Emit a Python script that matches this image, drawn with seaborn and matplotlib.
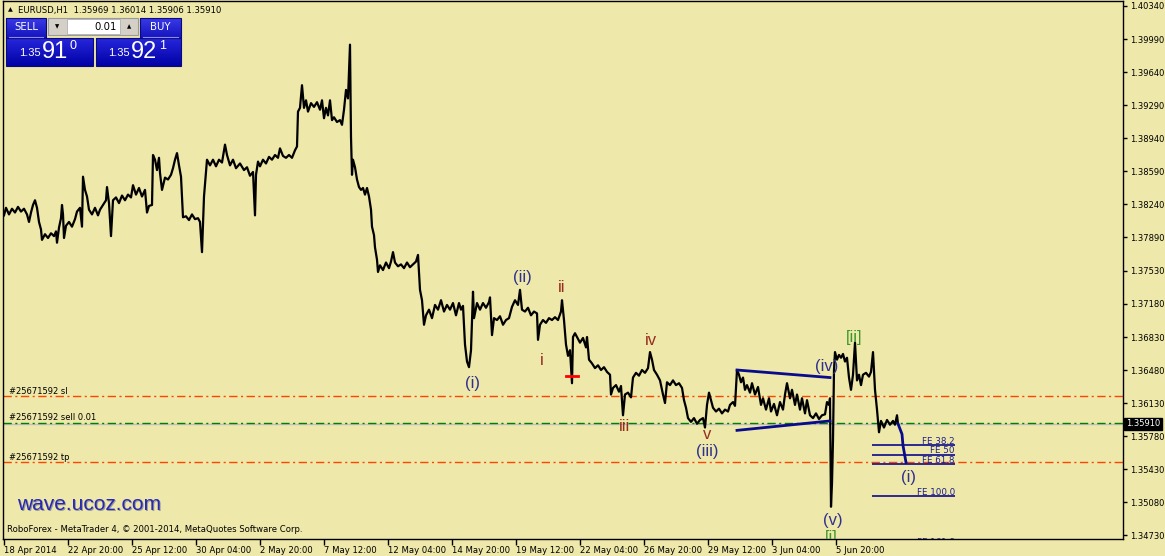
import numpy as np
import pandas as pd
import matplotlib
matplotlib.use("Agg")
import matplotlib.pyplot as plt
import matplotlib.colors as mcolors
from matplotlib.patches import Rectangle
from matplotlib.transforms import offset_copy, blended_transform_factory
import seaborn as sns

# ---------------- data ----------------
symbol_line = "EURUSD,H1  1.35969 1.36014 1.35906 1.35910"

# H1 price path: (bar index, price)
price_path = [
    (0,1.3812),(2,1.3820),(5,1.3813),(8,1.3819),(11,1.3815),(14,1.3821),(17,1.3816),(20,1.3819),
    (23,1.3813),(25,1.3805),(27,1.3815),(29,1.3823),(31,1.3828),(33,1.3820),(35,1.3805),(37,1.3797),
    (38,1.3786),(41,1.3792),(44,1.3788),(47,1.3793),(50,1.3790),(52,1.3795),(53,1.3783),(55,1.3799),
    (57,1.3809),(58,1.3823),(59,1.3813),(60,1.3788),(62,1.3801),(65,1.3805),(68,1.3800),(71,1.3808),
    (73,1.3816),(76,1.3820),(78,1.3800),(79,1.3853),(81,1.3839),(83,1.3832),(85,1.3818),(88,1.3813),
    (91,1.3820),(94,1.3812),(96,1.3818),(99,1.3823),(102,1.3828),(103,1.3842),(105,1.3825),(107,1.3790),
    (109,1.3828),(112,1.3831),(115,1.3825),(118,1.3833),(121,1.3828),(124,1.3834),(127,1.3831),
    (129,1.3844),(132,1.3834),(135,1.3841),(138,1.3832),(141,1.3839),(143,1.3815),(145,1.3822),
    (148,1.3823),(149,1.3876),(151,1.3871),(153,1.3860),(155,1.3873),(156,1.3857),(158,1.3839),
    (161,1.3852),(164,1.3850),(167,1.3855),(169,1.3862),(171,1.3871),(173,1.3878),(175,1.3865),
    (177,1.3853),(179,1.3810),(182,1.3811),(185,1.3807),(188,1.3813),(191,1.3808),(194,1.3809),
    (196,1.3805),(198,1.3773),(200,1.3832),(202,1.3858),(203,1.3871),(206,1.3865),(209,1.3871),
    (212,1.3864),(215,1.3871),(218,1.3868),(221,1.3887),(223,1.3876),(226,1.3865),(229,1.3871),
    (232,1.3862),(236,1.3867),(240,1.3860),(243,1.3863),(246,1.3854),(249,1.3858),(251,1.3812),
    (252,1.3855),(254,1.3869),(256,1.3864),(259,1.3871),(262,1.3867),(265,1.3874),(268,1.3871),
    (271,1.3876),(274,1.3873),(276,1.3883),(279,1.3875),(282,1.3873),(285,1.3876),(288,1.3873),
    (291,1.3881),(293,1.3885),(294,1.3922),(296,1.3926),(298,1.3950),(300,1.3926),(302,1.3934),
    (304,1.3922),(307,1.3931),(310,1.3927),(313,1.3932),(316,1.3924),(318,1.3934),(320,1.3915),
    (322,1.3926),(324,1.3918),(326,1.3934),(328,1.3913),(330,1.3916),(333,1.3911),(336,1.3913),
    (338,1.3908),(340,1.3924),(342,1.3945),(344,1.3936),(346,1.3993),(347,1.3895),(348,1.3855),
    (349,1.3871),(351,1.3863),(353,1.3850),(355,1.3842),(357,1.3839),(359,1.3841),(361,1.3834),
    (363,1.3841),(365,1.3832),(367,1.3818),(368,1.3800),(370,1.3791),(371,1.3778),(373,1.3765),
    (374,1.3752),(376,1.3759),(379,1.3754),(382,1.3762),(385,1.3756),(387,1.3763),(389,1.3773),
    (391,1.3762),(394,1.3758),(397,1.3760),(400,1.3756),(403,1.3762),(406,1.3757),(409,1.3760),
    (412,1.3763),(414,1.3770),(416,1.3733),(418,1.3722),(420,1.3696),(422,1.3706),(425,1.3712),
    (428,1.3703),(431,1.3717),(434,1.3712),(437,1.3722),(440,1.3710),(443,1.3717),(446,1.3712),
    (449,1.3719),(452,1.3706),(455,1.3719),(457,1.3712),(459,1.3716),(461,1.3675),(463,1.3657),
    (465,1.3651),(467,1.3669),(469,1.3731),(470,1.3703),(473,1.3719),(476,1.3712),(479,1.3719),
    (482,1.3714),(485,1.3720),(486,1.3725),(488,1.3685),(490,1.3703),(493,1.3701),(496,1.3705),
    (499,1.3696),(502,1.3701),(505,1.3703),(508,1.3715),(511,1.3722),(514,1.3717),(516,1.3733),
    (518,1.3712),(521,1.3710),(524,1.3714),(527,1.3706),(530,1.3710),(533,1.3708),(534,1.3680),
    (536,1.3696),(539,1.3701),(542,1.3698),(545,1.3703),(548,1.3701),(551,1.3704),(554,1.3701),
    (557,1.3710),(558,1.3722),(560,1.3701),(562,1.3675),(564,1.3663),(566,1.3669),(568,1.3634),
    (569,1.3683),(571,1.3687),(573,1.3683),(576,1.3677),(579,1.3682),(582,1.3672),(583,1.3683),
    (585,1.3659),(588,1.3655),(591,1.3650),(594,1.3653),(597,1.3648),(600,1.3651),(603,1.3646),
    (606,1.3643),(607,1.3622),(609,1.3629),(612,1.3632),(615,1.3625),(617,1.3631),(619,1.3600),
    (621,1.3622),(624,1.3624),(627,1.3619),(629,1.3640),(632,1.3645),(635,1.3642),(638,1.3648),
    (641,1.3645),(644,1.3650),(646,1.3667),(648,1.3659),(650,1.3648),(653,1.3643),(656,1.3637),
    (659,1.3622),(661,1.3613),(663,1.3635),(666,1.3632),(669,1.3637),(672,1.3632),(675,1.3634),
    (678,1.3629),(680,1.3616),(682,1.3608),(684,1.3597),(687,1.3593),(690,1.3597),(693,1.3591),
    (696,1.3595),(699,1.3597),(701,1.3587),(703,1.3611),(705,1.3624),(707,1.3616),(709,1.3608),
    (712,1.3604),(715,1.3607),(718,1.3602),(721,1.3606),(724,1.3604),(726,1.3611),(729,1.3614),
    (731,1.3610),(733,1.3648),(735,1.3643),(737,1.3635),(739,1.3640),(741,1.3627),(743,1.3632),
    (746,1.3624),(748,1.3634),(751,1.3622),(754,1.3630),(757,1.3611),(759,1.3618),(762,1.3606),
    (765,1.3618),(767,1.3604),(770,1.3612),(773,1.3600),(776,1.3614),(779,1.3606),(781,1.3622),
    (783,1.3634),(786,1.3618),(788,1.3627),(791,1.3611),(793,1.3622),(796,1.3606),(798,1.3618),
    (801,1.3602),(803,1.3616),(806,1.3600),(809,1.3597),(812,1.3602),(815,1.3596),(818,1.3600),
    (821,1.3601),(823,1.3614),(825,1.3611),(826,1.3618),(827,1.3503),(828,1.3528),(829,1.3574),
    (830,1.3648),(831,1.3667),(833,1.3659),(835,1.3664),(837,1.3661),(839,1.3665),(841,1.3657),
    (843,1.3661),(845,1.3640),(847,1.3627),(849,1.3643),(851,1.3677),(853,1.3637),(855,1.3643),
    (857,1.3632),(859,1.3643),(862,1.3645),(865,1.3641),(867,1.3646),(869,1.3667),(871,1.3627),
    (873,1.3606),(875,1.3582),(877,1.3594),(880,1.3587),(883,1.3595),(886,1.3590),(889,1.3594),
    (891,1.3590),(893,1.3600),(894,1.3591),
]

# projected path of wave (i)
proj_bar = [894, 898, 899, 902]
proj_price = [1.3591, 1.3580, 1.3568, 1.3550]

# triangle (wave (iv)) boundaries
tri_bar = [733, 826]
tri_upper = [1.3648, 1.3640]
tri_lower = [1.3584, 1.3594]

# Fibonacci expansion levels
fe_names = ["FE 38.2", "FE 50", "FE 61.8", "FE 100.0", "FE 161.8"]
fe_prices = [1.3568, 1.3558, 1.3548, 1.3514, 1.3461]
fe_bar_range = [868, 951]

# order lines
order_names = ["#25671592 sl", "#25671592 sell 0.01", "#25671592 tp"]
order_prices = [1.3620, 1.3592, 1.3550]
order_kind = ["stop", "entry", "stop"]
bid_price = 1.35910
bid_label = "1.35910"

# wave labels
wave_text = ["(i)", "(ii)", "ii", "i", "iii", "iv", "v", "(iii)", "(iv)", "[ii]", "(v)", "[i]", "(i)"]
wave_bar = [468, 518, 558, 538, 620, 647, 703, 703, 823, 850, 829, 827, 905]
wave_price = [1.36332, 1.37456, 1.37350, 1.36586, 1.35886, 1.36788, 1.35791, 1.35621,
              1.36512, 1.36820, 1.34879, 1.34709, 1.35335]
wave_degree = ["minor", "minor", "minute", "minute", "minute", "minute", "minute", "minor",
               "minor", "inter", "minor", "inter", "minor"]

# order open marker
marker_bar = [562, 574]
marker_price = 1.3642

# axes ticks
ytick_labels = ["1.34730", "1.35080", "1.35430", "1.35780", "1.36130", "1.36480", "1.36830",
                "1.37180", "1.37530", "1.37890", "1.38240", "1.38590", "1.38940", "1.39290",
                "1.39640", "1.39990", "1.40340"]
xtick_bars = [0, 64, 128, 192, 256, 320, 384, 448, 512, 576, 640, 704, 768, 832]
xtick_labels = ["18 Apr 2014", "22 Apr 20:00", "25 Apr 12:00", "30 Apr 04:00", "2 May 20:00",
                "7 May 12:00", "12 May 04:00", "14 May 20:00", "19 May 12:00", "22 May 04:00",
                "26 May 20:00", "29 May 12:00", "3 Jun 04:00", "5 Jun 20:00"]

# ---------------- drawing ----------------
plt.rcParams['font.family'] = ['DejaVu Sans']
W, H = 1165, 556
BG = '#EEE8AA'
NAVY = '#0A0A8C'
fig = plt.figure(figsize=(W / 100, H / 100), dpi=100)
fig.patch.set_facecolor(BG)

ax = fig.add_axes([3 / W, (H - 539) / H, 1120 / W, 538 / H])
ax.set_facecolor(BG)

df = pd.DataFrame(price_path, columns=["bar", "price"])
sns.lineplot(data=df, x="bar", y="price", ax=ax, color="black", linewidth=1.6,
             sort=False, estimator=None, legend=False, zorder=4)

# order lines
dashdot = (0, (6, 2.5, 1.5, 2.5))
for name, p, kind in zip(order_names, order_prices, order_kind):
    col = '#FF4500' if kind == "stop" else '#008000'
    ax.axhline(p, color=col, lw=1.0, ls=dashdot, zorder=2)
    ax.text(5, p, name, transform=offset_copy(ax.transData, fig, x=0, y=2.5, units='dots'),
            ha='left', va='baseline', fontsize=6.0, color='black', zorder=6)
ax.axhline(bid_price, color='#C0C0C0', lw=1.0, zorder=1.5)

# triangle
ax.plot(tri_bar, tri_upper, color=NAVY, lw=2, zorder=5)
ax.plot(tri_bar, tri_lower, color=NAVY, lw=2, zorder=5)

# projection
ax.plot(proj_bar, proj_price, color=NAVY, lw=2, zorder=5)

# FE levels
ax.hlines(fe_prices, fe_bar_range[0], fe_bar_range[1], color=NAVY, lw=1.2, zorder=3)
for name, p in zip(fe_names, fe_prices):
    ax.text(fe_bar_range[1], p, name, transform=offset_copy(ax.transData, fig, x=0, y=1.5, units='dots'),
            ha='right', va='baseline', fontsize=6.3, color='#1E1E8A', clip_on=True, zorder=6)

# order open marker
ax.plot(marker_bar, [marker_price, marker_price], color='#FF0000', lw=2, zorder=6)

# wave labels
deg_color = {"minor": '#30308E', "minute": '#962D1E', "inter": '#3C9628'}
for t, b, p, d in zip(wave_text, wave_bar, wave_price, wave_degree):
    ax.text(b, p, t, ha='center', va='center', fontsize=12, color=deg_color[d],
            family=['Liberation Sans', 'DejaVu Sans'], clip_on=True, zorder=7)

# axes setup
ax.set_xlim(-1, 1119)
ax.set_ylim(1.34688, 1.40393)
ax.set_xlabel("")
ax.set_ylabel("")
ax.yaxis.tick_right()
ax.set_yticks([float(v) for v in ytick_labels])
ax.set_yticklabels(ytick_labels)
ax.set_xticks(xtick_bars)
ax.set_xticklabels(xtick_labels, ha='left')
ax.tick_params(axis='y', direction='out', length=3, width=1, pad=2, labelsize=6.0, colors='black')
ax.tick_params(axis='x', direction='out', length=4, width=1, pad=1, labelsize=6.1, colors='black')
for sp in ax.spines.values():
    sp.set_color('black')
    sp.set_linewidth(1)
ax.grid(False)

# current price box on right scale
ax.annotate(bid_label, xy=(1, bid_price), xycoords=blended_transform_factory(ax.transAxes, ax.transData),
            xytext=(2.2, 0), textcoords='offset points', ha='left', va='center', fontsize=6.0,
            color='white', annotation_clip=False, zorder=10,
            bbox=dict(boxstyle='square,pad=0.2', fc='black', ec='black'))

# ---------------- overlay (terminal decorations) ----------------
ov = fig.add_axes([0, 0, 1, 1])
ov.set_xlim(0, W)
ov.set_ylim(H, 0)
ov.axis('off')


def grad_box(x0, y0, x1, y1, top, bottom):
    c0 = np.array(mcolors.to_rgb(top))
    c1 = np.array(mcolors.to_rgb(bottom))
    t = np.linspace(0, 1, 32)[:, None, None]
    img = c0 * (1 - t) + c1 * t
    ov.imshow(img, extent=(x0, x1, y1, y0), aspect='auto', origin='upper',
              interpolation='bilinear', zorder=5)
    ov.add_patch(Rectangle((x0, y0), x1 - x0, y1 - y0, fill=False, ec='#0A0A7A', lw=0.8, zorder=6))


ov.text(8, 10, "▲", fontsize=4.5, va='center', ha='left', color='black')
ov.text(18, 10, symbol_line, fontsize=6.1, va='center', ha='left', color='black')

# sell / buy buttons
grad_box(6, 18, 46, 38, '#3A3AE8', '#1414BE')
grad_box(140, 18, 181, 38, '#3A3AE8', '#1414BE')
ov.text(26, 27.5, "SELL", color='white', fontsize=7.3, ha='center', va='center', zorder=7)
ov.text(160.5, 27.5, "BUY", color='white', fontsize=7.3, ha='center', va='center', zorder=7)
ov.plot([9, 43], [36.5, 36.5], color='#8A8AF0', lw=0.8, zorder=7)
ov.plot([143, 178], [36.5, 36.5], color='#8A8AF0', lw=0.8, zorder=7)

# lot box
ov.add_patch(Rectangle((48, 18), 90, 17, fc='#D4D0C8', ec='#9A9A9A', lw=0.8, zorder=5))
ov.add_patch(Rectangle((67, 19), 53, 15, fc='white', ec='#B0B0B0', lw=0.6, zorder=6))
ov.text(57, 26.5, "▼", fontsize=4, ha='center', va='center', color='black', zorder=7)
ov.text(129, 26.5, "▲", fontsize=4, ha='center', va='center', color='black', zorder=7)
ov.text(117, 27, "0.01", fontsize=7.3, ha='right', va='center', color='black', zorder=7)

# price boxes
grad_box(6, 38, 93, 66, '#2626DC', '#0202A6')
grad_box(96, 38, 181, 66, '#2626DC', '#0202A6')
sans = ['Liberation Sans', 'DejaVu Sans']
ov.text(19, 53.5, "1.35", fontsize=8, color='white', ha='left', va='center', family=sans, zorder=7)
ov.text(42, 51.5, "91", fontsize=17, color='white', ha='left', va='center', family=sans, zorder=7)
ov.text(70, 46, "0", fontsize=9, color='white', ha='left', va='center', family=sans, zorder=7)
ov.text(108, 53.5, "1.35", fontsize=8, color='white', ha='left', va='center', family=sans, zorder=7)
ov.text(131, 51.5, "92", fontsize=17, color='white', ha='left', va='center', family=sans, zorder=7)
ov.text(159, 46, "1", fontsize=9, color='white', ha='left', va='center', family=sans, zorder=7)

# watermark and copyright
ov.text(18.5, 505.5, "wave.ucoz.com", fontsize=15, color='#9A9A9A', ha='left', va='center',
        family=sans, zorder=7)
ov.text(17, 504, "wave.ucoz.com", fontsize=15, color='#2828B4', ha='left', va='center',
        family=sans, zorder=8)
ov.text(7, 530, "RoboForex - MetaTrader 4, © 2001-2014, MetaQuotes Software Corp.",
        fontsize=6.1, color='black', ha='left', va='center', zorder=8)

ov.set_xlim(0, W)
ov.set_ylim(H, 0)

fig.savefig("out.png", dpi=100, facecolor=BG)
